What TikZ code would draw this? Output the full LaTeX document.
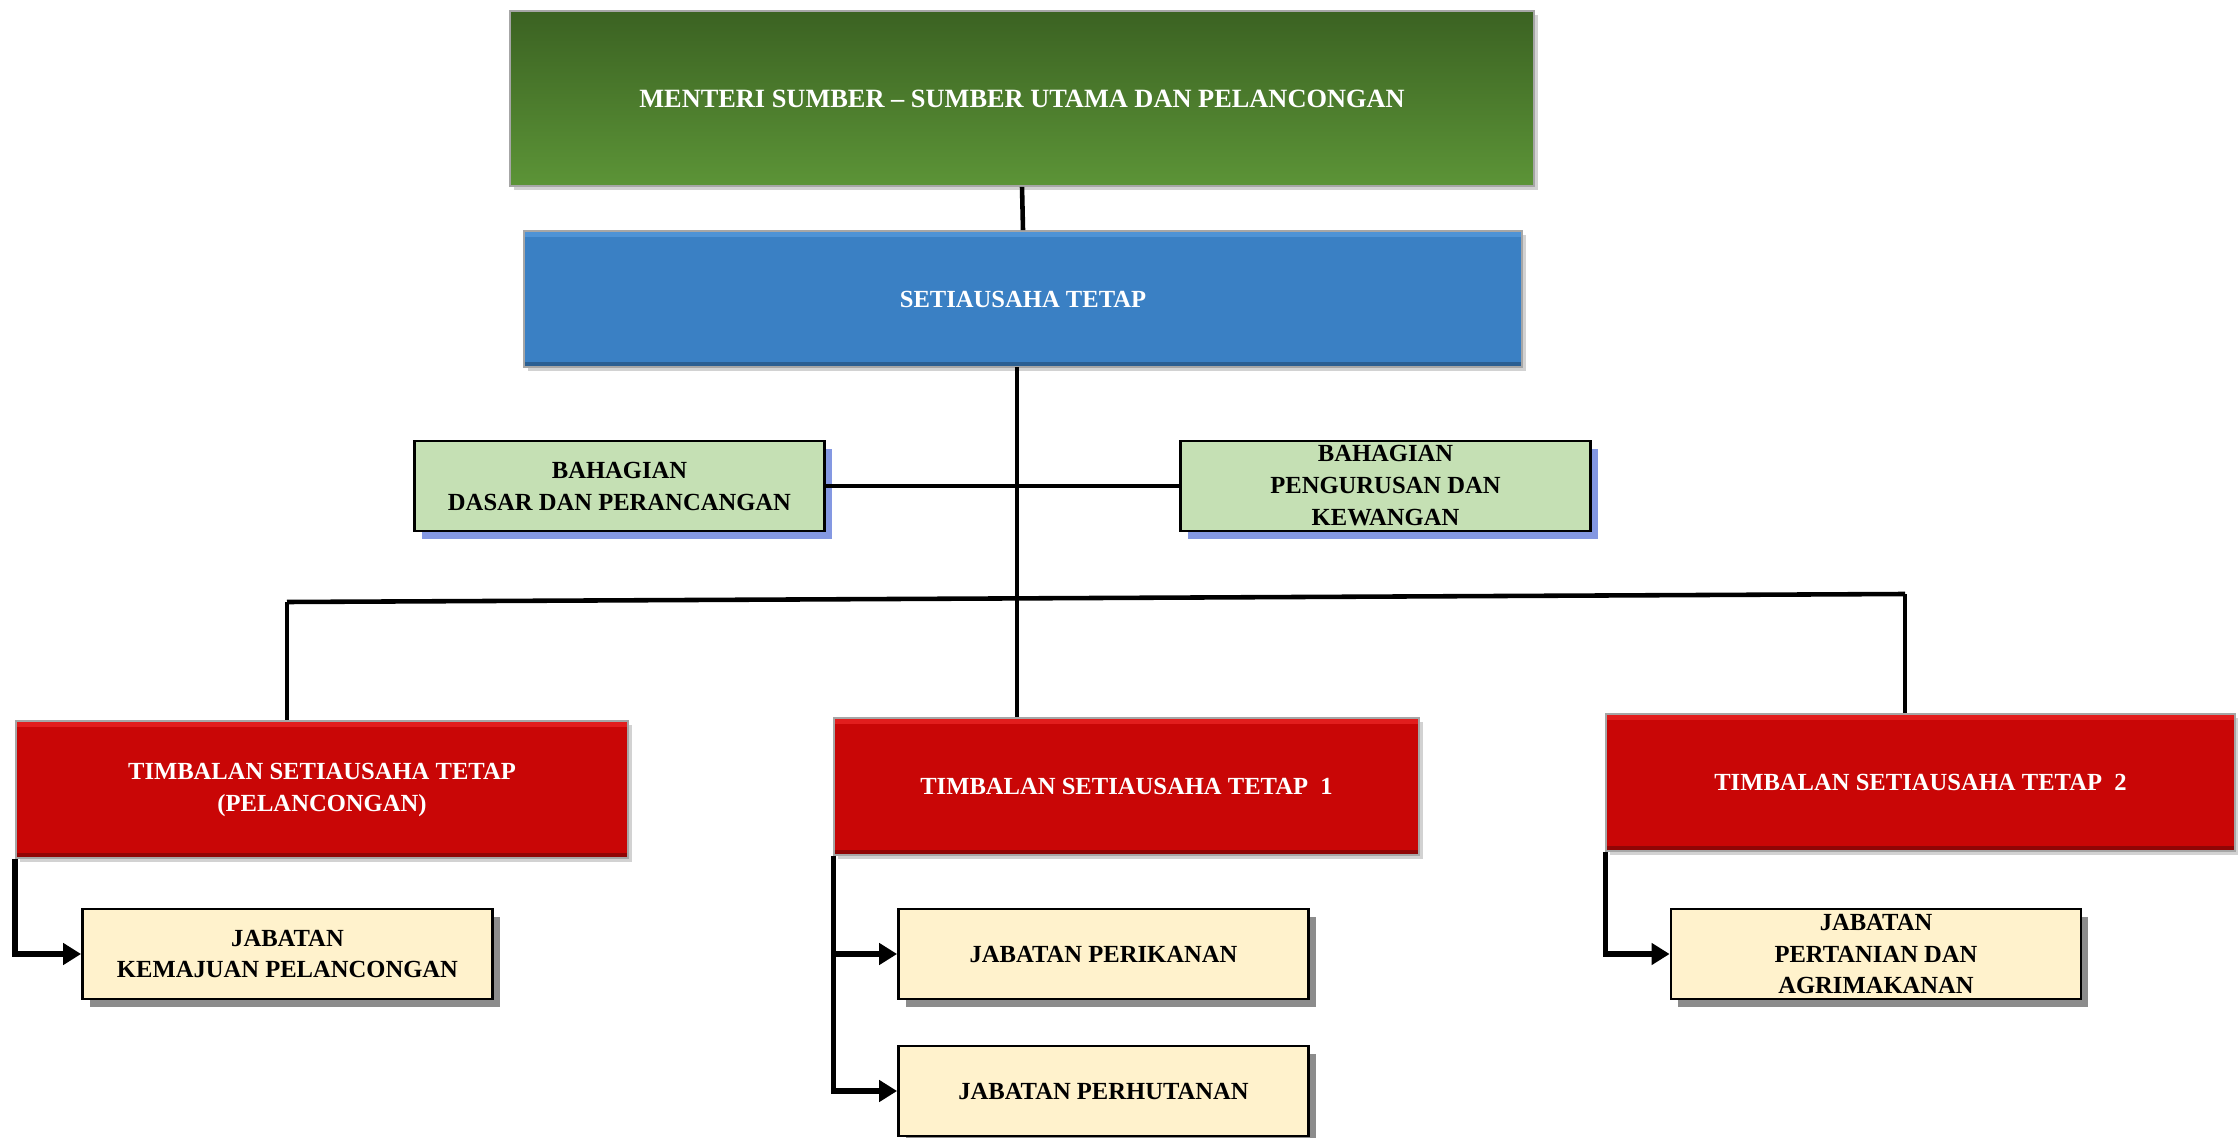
\documentclass[tikz,border=0pt]{standalone}
\usepackage{fontspec}
\setmainfont{Liberation Serif}
\usetikzlibrary{arrows.meta,shadows}
\definecolor{orgGreenTop}{HTML}{3B6222}
\definecolor{orgGreenBot}{HTML}{5C9437}
\definecolor{orgBlue}{HTML}{3A80C4}
\definecolor{orgBlueLight}{HTML}{4E93D6}
\definecolor{orgBlueDark}{HTML}{2B5F92}
\definecolor{orgRed}{HTML}{C90606}
\definecolor{orgRedLight}{HTML}{E21D1D}
\definecolor{orgRedDark}{HTML}{900505}
\definecolor{orgSage}{HTML}{C5E0B4}
\definecolor{orgSageShadow}{HTML}{8498E2}
\definecolor{orgCream}{HTML}{FFF2CC}
\definecolor{orgShadow}{HTML}{8C8C8C}
\tikzset{
  headbox/.style={draw=black!35, line width=0.5pt, inner sep=0pt, align=center,
    text=white, font=\fontsize{7}{9.1}\selectfont\bfseries,
    drop shadow={shadow xshift=0.04cm, shadow yshift=-0.04cm, fill=black!35}},
  bevel/.style n args={2}{path picture={
      \fill[#1] (path picture bounding box.north west)
        rectangle ([yshift=-0.06cm]path picture bounding box.north east);
      \fill[#2] (path picture bounding box.south west)
        rectangle ([yshift=0.05cm]path picture bounding box.south east);}},
  unitbox/.style={draw=black, line width=0.8pt, inner sep=0pt, align=center,
    minimum width=4.1cm, minimum height=0.9cm,
    font=\fontsize{7}{9.1}\selectfont\bfseries},
  sagebox/.style={unitbox, fill=orgSage,
    drop shadow={shadow xshift=0.07cm, shadow yshift=-0.08cm, fill=orgSageShadow, opacity=1}},
  creambox/.style={unitbox, fill=orgCream,
    drop shadow={shadow xshift=0.07cm, shadow yshift=-0.08cm, fill=orgShadow, opacity=1}},
  link/.style={black, line width=1.3pt},
  feed/.style={black, line width=1.5pt, -{Triangle[length=1.8mm,width=2.1mm]}},
}

\begin{document}
\begin{tikzpicture}[line join=miter]
  \useasboundingbox (0,0) rectangle (22.38,-11.38);

  % --- Minister and secretary ---
  \node[headbox, top color=orgGreenTop, bottom color=orgGreenBot,
        minimum width=10.24cm, minimum height=1.75cm,
        font=\fontsize{7.5}{9.1}\selectfont\bfseries]
    (menteri) at (10.22,-0.985) {MENTERI SUMBER -- SUMBER UTAMA DAN PELANCONGAN};
  \node[headbox, fill=orgBlue, bevel={orgBlueLight}{orgBlueDark},
        minimum width=9.98cm, minimum height=1.36cm]
    (setia) at (10.23,-2.99) {SETIAUSAHA TETAP};

  % --- Divisions ---
  \node[sagebox] (bdasar) at (6.195,-4.86) {BAHAGIAN\\DASAR DAN PERANCANGAN};
  \node[sagebox] (burus) at (13.855,-4.86) {BAHAGIAN\\PENGURUSAN DAN\\KEWANGAN};

  % --- Deputy secretaries ---
  \node[headbox, fill=orgRed, bevel={orgRedLight}{orgRedDark},
        minimum width=6.12cm, minimum height=1.37cm]
    (tpel) at (3.22,-7.895) {TIMBALAN SETIAUSAHA TETAP\\(PELANCONGAN)};
  \node[headbox, fill=orgRed, bevel={orgRedLight}{orgRedDark},
        minimum width=5.85cm, minimum height=1.37cm]
    (tsatu) at (11.265,-7.865) {TIMBALAN SETIAUSAHA TETAP\ \ 1};
  \node[headbox, fill=orgRed, bevel={orgRedLight}{orgRedDark},
        minimum width=6.29cm, minimum height=1.37cm]
    (tdua) at (19.205,-7.825) {TIMBALAN SETIAUSAHA TETAP\ \ 2};

  % --- Departments ---
  \node[creambox] (jpel) at (2.875,-9.54) {JABATAN\\KEMAJUAN PELANCONGAN};
  \node[creambox] (jikan) at (11.035,-9.54) {JABATAN PERIKANAN};
  \node[creambox] (jhutan) at (11.035,-10.91) {JABATAN PERHUTANAN};
  \node[creambox] (jtani) at (18.76,-9.54) {JABATAN\\PERTANIAN DAN\\AGRIMAKANAN};

  % --- Connectors ---
  \coordinate (busL) at (2.87,-6.02);
  \coordinate (busR) at (19.05,-5.94);
  \coordinate (trunk) at (10.17,-3.67);
  \draw[link] (menteri.south) -- (setia.north);
  \draw[link] (trunk) -- (trunk |- tsatu.north);
  \draw[link] (bdasar.east) -- (burus.west);
  \draw[link] (busL) -- (busR);
  \draw[link] (busL) -- (busL |- tpel.north);
  \draw[link] (busR) -- (busR |- tdua.north);

  \draw[feed] (tpel.south west) |- (jpel.west);
  \draw[feed] (tsatu.south west) |- (jhutan.west);
  \draw[feed] (tsatu.south west |- jikan.west) -- (jikan.west);
  \draw[feed] (tdua.south west) |- (jtani.west);
\end{tikzpicture}
\end{document}
